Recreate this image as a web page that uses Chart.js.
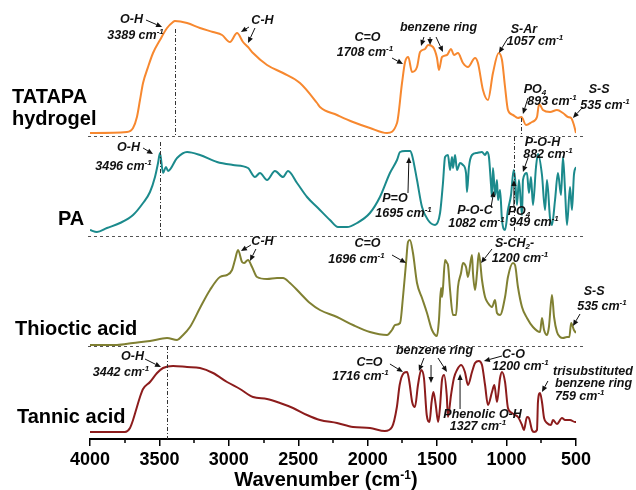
<!DOCTYPE html>
<html>
<head>
<meta charset="utf-8">
<title>FTIR spectra</title>
<script src="https://cdn.jsdelivr.net/npm/chart.js@4"></script>
<style>
  body { margin: 0; background: #fff; }
  #wrap { width: 636px; height: 490px; }
</style>
</head>
<body>
<div id="wrap"><canvas id="ftir" width="636" height="490"></canvas></div>
<script>
// bottom axis, wavenumber in cm-1 (drawn high -> low)
const xTicks = [4000, 3500, 3000, 2500, 2000, 1500, 1000, 500];
const minorTicks = [3750, 3250, 2750, 2250, 1750, 1250, 750];

const sampleNames = [['TATAPA', 'hydrogel'], ['PA'], ['Thioctic acid'], ['Tannic acid']];
const sampleColors = ['#F7882F', '#1B8A8C', '#808032', '#8C1C1C'];
// vertical stacking of the traces (a.u.)
const stackOffsets = [30.3, 20.3, 9.3, 0];

// spectra as [wavenumber, relative intensity]
const tatapa = [[4000,0.3],[3734,0.4],[3690,0.8],[3662,1.9],[3640,3.6],[3618,5.3],[3582,6.9],[3546,8.3],[3496,9.6],[3445,10.8],[3402,11.4],[3389,11.5],[3301,11.3],[3208,10.8],[3114,10.4],[3049,10.1],[2992,9.4],[2941,10.3],[2898,9.4],[2862,8.9],[2826,8.3],[2725,7.1],[2610,6.3],[2488,5.3],[2365,3.3],[2344,2.9],[2221,2.1],[2106,1.4],[1984,0.8],[1861,0.3],[1789,1.3],[1753,5.3],[1731,7.4],[1708,7.9],[1681,6.4],[1645,6.9],[1623,8.4],[1587,8.7],[1566,9.1],[1530,8.9],[1501,7.8],[1487,6.6],[1465,7.9],[1429,8.1],[1400,8.7],[1379,8.1],[1350,8.3],[1314,7.3],[1278,6.9],[1227,7.8],[1206,7.3],[1170,4.6],[1134,3.6],[1098,6.3],[1057,8.3],[1033,7.6],[1011,4.9],[990,2.6],[954,2.1],[918,1.8],[893,1.9],[860,1.1],[817,1.4],[781,1.9],[766,3.2],[738,2.6],[687,2.4],[637,2.6],[594,2.3],[558,1.9],[535,1.8],[515,1.1],[500,0.3]];

const pa = [[4000,0.6],[3950,0.4],[3878,0.8],[3784,1.3],[3690,2.1],[3618,3.3],[3568,4.4],[3532,5.9],[3510,7.3],[3496,8.3],[3474,6.3],[3453,6.9],[3438,6.5],[3373,7.8],[3301,8.4],[3208,8.1],[3085,7.4],[2970,7.1],[2862,6.8],[2812,5.9],[2776,6.3],[2725,5.6],[2668,6.5],[2610,5.9],[2574,6.5],[2509,5.3],[2437,3.9],[2358,2.8],[2272,1.6],[2214,0.9],[2149,0.9],[2077,1.3],[1984,2.3],[1912,3.9],[1840,6.3],[1789,7.6],[1767,8.4],[1731,8.5],[1695,8.5],[1681,8.1],[1645,5.6],[1609,2.9],[1566,1.6],[1515,1.1],[1479,2.3],[1458,5.3],[1443,7.9],[1422,8.1],[1407,6.6],[1393,7.9],[1386,6.8],[1371,8.1],[1357,6.6],[1335,7.3],[1314,7.1],[1292,6.3],[1285,4.4],[1271,6.9],[1249,8.1],[1213,8.3],[1177,8.4],[1155,8.1],[1141,8.4],[1127,7.9],[1112,5.1],[1105,3.9],[1098,6.8],[1082,4.1],[1069,5.6],[1062,3.6],[1047,4.6],[1033,1.6],[1011,0.6],[990,2.6],[968,4.1],[949,6.6],[939,5.8],[925,3.1],[911,5.6],[889,2.1],[882,5.6],[853,6.3],[839,4.3],[824,5.9],[810,3.1],[788,6.9],[774,8.2],[745,6.1],[723,2.6],[709,5.6],[687,1.8],[673,1.1],[651,3.6],[630,6.3],[608,4.1],[594,7.9],[579,4.6],[565,1.1],[543,4.9],[529,2.6],[515,6.1],[500,6.9]];

const thioctic = [[4000,0.1],[3806,0.1],[3690,0.3],[3568,0.5],[3445,0.8],[3373,0.6],[3337,1.0],[3280,1.9],[3208,3.8],[3136,5.6],[3064,6.9],[3013,7.1],[2977,7.6],[2956,8.6],[2934,9.6],[2905,8.4],[2891,8.3],[2862,8.6],[2833,7.9],[2797,6.9],[2725,6.7],[2653,6.8],[2610,6.8],[2560,6.3],[2488,5.3],[2416,4.3],[2344,3.6],[2221,2.9],[2106,2.1],[1984,1.4],[1861,1.1],[1825,1.6],[1803,2.1],[1767,2.3],[1746,4.9],[1724,8.3],[1710,10.4],[1696,10.6],[1674,9.3],[1645,6.3],[1609,4.8],[1573,3.3],[1537,1.6],[1501,1.0],[1487,2.6],[1472,5.8],[1465,4.9],[1458,5.8],[1443,8.6],[1429,8.3],[1422,8.1],[1407,5.6],[1386,3.1],[1364,3.1],[1350,5.9],[1328,7.3],[1314,8.3],[1292,7.9],[1278,6.9],[1249,9.1],[1242,7.3],[1227,5.6],[1213,7.3],[1200,9.3],[1177,6.6],[1155,4.9],[1134,4.3],[1105,3.9],[1083,4.6],[1069,3.3],[1047,3.1],[1011,4.9],[990,6.9],[954,8.3],[939,8.1],[918,5.9],[889,3.9],[853,2.8],[810,1.9],[759,1.4],[745,2.8],[730,1.6],[709,1.1],[695,1.9],[673,5.1],[658,2.9],[637,1.4],[615,0.9],[594,0.8],[565,0.9],[548,0.9],[535,2.3],[515,1.6],[500,1.3]];

const tannic = [[4000,0.7],[3748,0.7],[3712,1.1],[3690,1.9],[3662,3.2],[3640,4.2],[3618,5.0],[3568,5.7],[3517,6.6],[3474,7.1],[3402,7.3],[3301,7.2],[3208,7.1],[3114,6.6],[3013,5.7],[2920,5.0],[2826,4.2],[2725,4.0],[2632,3.6],[2538,3.1],[2437,2.4],[2344,1.9],[2221,1.6],[2106,1.2],[1984,1.1],[1876,0.8],[1825,1.2],[1790,3.2],[1770,5.4],[1740,6.6],[1716,6.7],[1700,5.7],[1680,3.7],[1660,3.2],[1638,5.4],[1615,6.9],[1595,6.1],[1575,2.4],[1555,1.7],[1540,3.7],[1527,4.7],[1510,3.4],[1493,1.7],[1480,3.1],[1465,5.9],[1450,6.4],[1431,4.4],[1422,2.2],[1400,4.4],[1379,6.1],[1357,6.9],[1327,7.4],[1300,6.7],[1278,5.4],[1249,6.7],[1227,7.6],[1200,7.8],[1177,7.4],[1155,5.4],[1134,3.4],[1105,4.7],[1088,5.4],[1069,3.7],[1047,6.1],[1033,6.7],[1011,5.7],[990,3.1],[961,2.6],[939,2.4],[918,2.2],[889,1.4],[875,0.9],[853,2.2],[839,2.1],[817,0.9],[802,0.7],[781,0.9],[774,3.7],[759,4.6],[745,3.7],[730,2.1],[709,1.6],[680,1.4],[666,1.9],[637,1.5],[601,2.1],[579,1.9],[543,1.9],[507,1.7],[500,1.7]];

const spectra = [tatapa, pa, thioctic, tannic];

// dash-dot guide lines: [wavenumber, top, bottom]
const guides = [[3389, 41.0, 30.2], [3496, 29.7, 20.3], [3442, 9.3, 0], [893, 32.1, 30.2], [949, 30.2, 20.7]];

// peak labels: text lines [text, wavenumber, y] and arrows [w1, y1, w2, y2]
const notes = [
  // TATAPA hydrogel
  { lines: [['O-H', 3701, 41.95], ['3389 cm^{-1}', 3672, 40.35]], arrows: [[3597, 41.9, 3481, 41.2]] },
  { lines: [['C-H', 2758, 41.8]], arrows: [[2855, 41.2, 2913, 40.7], [2812, 41.1, 2862, 39.6]] },
  { lines: [['C=O', 2002, 40.1], ['1708 cm^{-1}', 2020, 38.6]], arrows: [[1825, 38.1, 1746, 37.5]] },
  { lines: [['benzene ring', 1490, 41.1]], arrows: [[1595, 40.2, 1616, 39.3], [1551, 40.2, 1551, 39.4], [1508, 40.2, 1458, 38.7]] },
  { lines: [['S-Ar', 875, 40.9], ['1057 cm^{-1}', 795, 39.7]], arrows: [[990, 40.1, 1055, 38.6]] },
  { lines: [['PO_{4}', 795, 34.9], ['893 cm^{-1}', 673, 33.7]], arrows: [[846, 34.1, 882, 32.5]] },
  { lines: [['S-S', 334, 34.9], ['535 cm^{-1}', 291, 33.3]], arrows: [[450, 33.2, 522, 32.1]] },
  // PA
  { lines: [['O-H', 3723, 29.1], ['3496 cm^{-1}', 3759, 27.2]], arrows: [[3618, 29.1, 3546, 28.5]] },
  { lines: [['P=O', 1804, 24.0], ['1695 cm^{-1}', 1742, 22.5]], arrows: [[1710, 24.6, 1703, 28.2]] },
  { lines: [['P-O-C', 1227, 22.8], ['1082 cm^{-1}', 1217, 21.5]], arrows: [[1112, 23.2, 1091, 24.8]] },
  { lines: [['PO_{4}', 911, 22.7], ['949 cm^{-1}', 802, 21.6]], arrows: [[947, 23.3, 947, 25.9]] },
  { lines: [['P-O-H', 741, 29.6], ['882 cm^{-1}', 702, 28.4]], arrows: [[846, 28.1, 882, 26.7]] },
  // Thioctic acid
  { lines: [['C-H', 2758, 19.7]], arrows: [[2841, 19.4, 2913, 18.8], [2805, 19.0, 2848, 17.8]] },
  { lines: [['C=O', 2002, 19.5], ['1696 cm^{-1}', 2081, 17.9]], arrows: [[1825, 18.4, 1724, 17.6]] },
  { lines: [['S-CH_{2}-', 943, 19.5], ['1200 cm^{-1}', 903, 18.0]], arrows: [[1105, 19.0, 1184, 17.6]] },
  { lines: [['S-S', 370, 14.7], ['535 cm^{-1}', 313, 13.2]], arrows: [[471, 12.5, 522, 11.3]] },
  // Tannic acid
  { lines: [['O-H', 3694, 8.2], ['3442 cm^{-1}', 3777, 6.6]], arrows: [[3604, 8.0, 3489, 7.2]] },
  { lines: [['C=O', 1987, 7.6], ['1716 cm^{-1}', 2052, 6.2]], arrows: [[1840, 7.5, 1746, 6.7]] },
  { lines: [['benzene ring', 1519, 8.8]], arrows: [[1595, 8.1, 1631, 6.8], [1544, 7.4, 1544, 5.6], [1494, 8.1, 1429, 6.7]] },
  { lines: [['C-O', 950, 8.4], ['1200 cm^{-1}', 900, 7.2]], arrows: [[1033, 8.3, 1163, 7.8]] },
  { lines: [['Phenolic O-H', 1173, 2.4], ['1327 cm^{-1}', 1206, 1.2]], arrows: [[1335, 3.0, 1335, 6.5]] },
  { lines: [['trisubstituted', 665, 6.7], ['benzene ring', 651, 5.5], ['759 cm^{-1}', 651, 4.2]], align: 'left', arrows: [[702, 5.8, 745, 4.7]] }
];

const FONT = 'Arial, "Liberation Sans", Helvetica, sans-serif';
const NOTE_SIZE = 12.5;
Chart.defaults.font.family = FONT;

// text with ^{..} superscripts and _{..} subscripts
function drawRich(ctx, str, x, y, size, style, align) {
  const segs = [];
  const re = /([\^_])\{([^}]*)\}/g;
  let last = 0, m;
  while ((m = re.exec(str))) {
    if (m.index > last) segs.push({ t: str.slice(last, m.index), k: '' });
    segs.push({ t: m[2], k: m[1] });
    last = re.lastIndex;
  }
  if (last < str.length) segs.push({ t: str.slice(last), k: '' });
  const small = Math.round(size * 0.62);
  let total = 0;
  segs.forEach(s => {
    ctx.font = style + ' ' + (s.k ? small : size) + 'px ' + FONT;
    s.w = ctx.measureText(s.t).width;
    total += s.w;
  });
  let cx = align === 'left' ? x : x - total / 2;
  ctx.textAlign = 'left';
  segs.forEach(s => {
    ctx.font = style + ' ' + (s.k ? small : size) + 'px ' + FONT;
    const dy = s.k === '^' ? -size * 0.33 : s.k === '_' ? size * 0.25 : 0;
    ctx.fillText(s.t, cx, y + dy);
    cx += s.w;
  });
}

function drawArrow(ctx, x1, y1, x2, y2) {
  const a = Math.atan2(y2 - y1, x2 - x1);
  const L = 6, W = 2.6;
  const bx = x2 - L * Math.cos(a), by = y2 - L * Math.sin(a);
  ctx.beginPath();
  ctx.moveTo(x1, y1);
  ctx.lineTo(bx, by);
  ctx.stroke();
  ctx.beginPath();
  ctx.moveTo(x2, y2);
  ctx.lineTo(bx + W * Math.sin(a), by - W * Math.cos(a));
  ctx.lineTo(bx - W * Math.sin(a), by + W * Math.cos(a));
  ctx.closePath();
  ctx.fill();
}

const ftirDecor = {
  id: 'ftirDecor',
  afterDraw(chart) {
    const { ctx, chartArea, scales } = chart;
    const X = v => scales.x.getPixelForValue(v);
    const Y = v => scales.y.getPixelForValue(v);
    ctx.save();

    // dashed separators between the stacked traces
    ctx.strokeStyle = '#555';
    ctx.lineWidth = 1;
    ctx.setLineDash([3, 3]);
    stackOffsets.slice(0, 3).forEach(off => {
      const y = Math.round(Y(off)) + 0.5;
      ctx.beginPath();
      ctx.moveTo(chartArea.left - 2, y);
      ctx.lineTo(chartArea.right + 9, y);
      ctx.stroke();
    });

    // dash-dot guides at labelled peaks
    ctx.strokeStyle = '#333';
    ctx.setLineDash([4, 2, 1, 2]);
    guides.forEach(([w, top, bot]) => {
      const x = Math.round(X(w)) + 0.5;
      ctx.beginPath();
      ctx.moveTo(x, Y(top));
      ctx.lineTo(x, Y(bot));
      ctx.stroke();
    });
    ctx.setLineDash([]);

    // minor ticks
    ctx.strokeStyle = '#000';
    ctx.lineWidth = 1.5;
    minorTicks.forEach(w => {
      const x = Math.round(X(w));
      ctx.beginPath();
      ctx.moveTo(x, chartArea.bottom);
      ctx.lineTo(x, chartArea.bottom + 4);
      ctx.stroke();
    });

    // sample names
    ctx.fillStyle = '#000';
    ctx.textBaseline = 'alphabetic';
    ctx.textAlign = 'left';
    ctx.font = 'bold 20px ' + FONT;
    const nameX = [12, 58, 15, 17];
    const nameRise = [3.3, 1.1, 1.1, 1.6];
    sampleNames.forEach((lines, i) => {
      lines.forEach((t, j) => {
        ctx.fillText(t, nameX[i], Y(stackOffsets[i] + nameRise[i]) + j * 22);
      });
    });

    // peak labels and arrows
    ctx.textBaseline = 'middle';
    ctx.strokeStyle = '#111';
    ctx.fillStyle = '#111';
    ctx.lineWidth = 1;
    notes.forEach(n => {
      n.lines.forEach(([t, w, v]) => drawRich(ctx, t, X(w), Y(v), NOTE_SIZE, 'italic bold', n.align));
      n.arrows.forEach(([w1, v1, w2, v2]) => drawArrow(ctx, X(w1), Y(v1), X(w2), Y(v2)));
    });

    // axis title
    ctx.fillStyle = '#000';
    ctx.textBaseline = 'alphabetic';
    drawRich(ctx, 'Wavenumber (cm^{-1})', (chartArea.left + chartArea.right) / 2 - 7, 486, 20, 'bold', 'center');
    ctx.restore();
  }
};

const datasets = spectra.map((pts, i) => ({
  label: sampleNames[i].join(' '),
  data: pts.map(([w, v]) => ({ x: w, y: v + stackOffsets[i] })),
  borderColor: sampleColors[i],
  borderWidth: 2,
  pointRadius: 0,
  cubicInterpolationMode: 'monotone',
  fill: false
}));

new Chart(document.getElementById('ftir'), {
  type: 'line',
  data: { datasets },
  options: {
    responsive: false,
    animation: false,
    layout: { padding: { left: 90, right: 60, top: 9, bottom: 0 } },
    plugins: { legend: { display: false }, tooltip: { enabled: false } },
    scales: {
      x: {
        type: 'linear',
        reverse: true,
        min: 500,
        max: 4000,
        afterFit: s => { s.height = 51; },
        afterBuildTicks: s => { s.ticks = xTicks.map(v => ({ value: v })); },
        ticks: { padding: 3, color: '#000', font: { size: 18, weight: 'bold' }, maxRotation: 0, autoSkip: false, callback: v => String(v) },
        grid: { drawOnChartArea: false, color: '#000', lineWidth: 1.5, tickLength: 7 },
        border: { color: '#000', width: 2 }
      },
      y: { display: false, min: 0, max: 43 }
    }
  },
  plugins: [ftirDecor]
});
</script>
</body>
</html>
